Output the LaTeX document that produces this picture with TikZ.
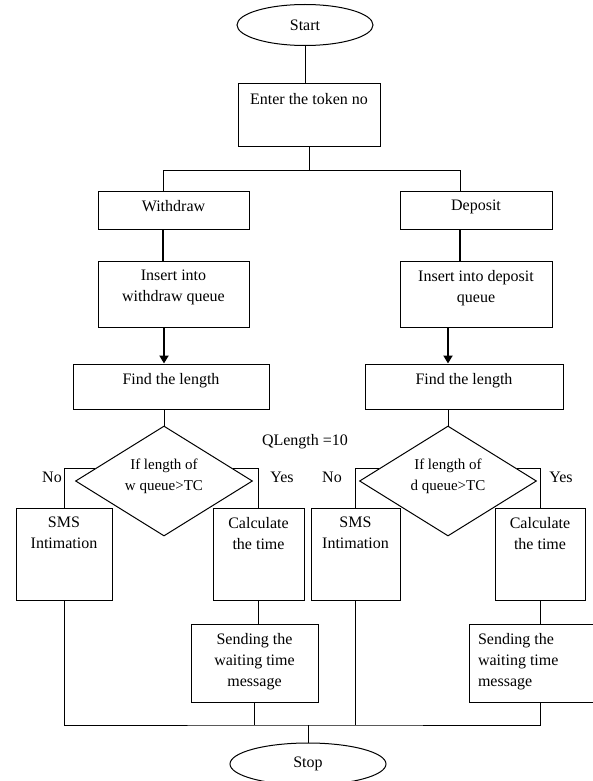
\documentclass[tikz,border=0pt]{standalone}
\usepackage{fontspec}
\setmainfont{Liberation Serif}
\usepackage{tikz}
\usetikzlibrary{shapes.geometric, arrows.meta}
\tikzset{
  box/.style 2 args={draw, rectangle, minimum width=#1, minimum height=#2, inner sep=0pt},
  boxtext/.style={label={[anchor=north, yshift=-9pt, align=center, inner sep=0pt]north:{#1}}},
  boxtextleft/.style={label={[anchor=north west, xshift=9pt, yshift=-9pt, align=left, inner sep=0pt]north west:{#1}}},
  terminal/.style 2 args={draw, ellipse, minimum width=#1, minimum height=#2, inner sep=0pt},
  decision/.style={draw, diamond, aspect=1.6, minimum width=177pt, minimum height=110pt, inner sep=0pt},
  dtext/.style={label={[align=center, yshift=5pt, inner sep=0pt, font=\fontsize{15}{21}\selectfont]center:{#1}}},
  note/.style={inner sep=0pt},
  heavy/.style={line width=2.5pt},
  heavyarrow/.style={line width=2.5pt, -{Triangle[length=8pt,width=9pt]}}
}
\begin{document}
\begin{tikzpicture}[x=1pt, y=-1pt, line width=1pt, font=\fontsize{16}{21}\selectfont]
  \useasboundingbox (0,0) rectangle (592,781);
  % top
  \node[terminal={136pt}{41pt}] (start) at (305,25) {Start};
  \node[box={142pt}{62pt}, boxtext={Enter the token no}] (enter) at (309,115) {};
  \node[box={151pt}{38pt}, boxtext={Withdraw}] (withdraw) at (173.5,210) {};
  \node[box={152pt}{38pt}, boxtext={Deposit}] (deposit) at (476,210) {};
  \node[box={151pt}{66pt}, boxtext={Insert into\\withdraw queue}] (insw) at (173.5,294) {};
  \node[box={152pt}{66pt}, boxtext={Insert into deposit\\queue}] (insd) at (476,294) {};
  \node[box={196pt}{45pt}, boxtext={Find the length}] (findw) at (171,386.5) {};
  \node[box={198pt}{45pt}, boxtext={Find the length}] (findd) at (464,386.5) {};
  % decisions
  \node[decision, dtext={If length of\\w queue>TC}] (diaw) at (164,481) {};
  \node[decision, dtext={If length of\\d queue>TC}] (diad) at (448,481) {};
  \node[note] (qlen) at (305,442) {QLength =10};
  \node[note] (nowl) at (52,477) {No};
  \node[note] (yesw) at (282,477) {Yes};
  \node[note] (nodl) at (332,477) {No};
  \node[note] (yesd) at (561,477) {Yes};
  % lower boxes
  \node[box={96pt}{92pt}, boxtext={SMS\\Intimation}] (smsw) at (64,554) {};
  \node[box={91pt}{92pt}, boxtext={Calculate\\the time}] (calw) at (258.5,554) {};
  \node[box={89pt}{92pt}, boxtext={SMS\\Intimation}] (smsd) at (355.5,554) {};
  \node[box={90pt}{92pt}, boxtext={Calculate\\the time}] (cald) at (540,554) {};
  \node[box={127pt}{78pt}, boxtext={Sending the\\waiting time\\message}] (sendw) at (254.5,663) {};
  \node[box={142pt}{78pt}, boxtextleft={Sending the\\waiting time\\message}] (sendd) at (540,663) {};
  \node[terminal={156pt}{42pt}] (stop) at (308,764) {Stop};
  % connectors
  \coordinate (wfork) at (163,170);
  \coordinate (dfork) at (460,170);
  \coordinate (merge) at (308,725);
  \draw (start.south) -- (start.south |- enter.north);
  \draw (enter.south) -- (enter.south |- wfork);
  \draw (wfork) -- (dfork);
  \draw (wfork) -- (wfork |- withdraw.north);
  \draw (dfork) -- (dfork |- deposit.north);
  \draw[heavy] (wfork |- withdraw.south) -- (wfork |- insw.north);
  \draw[heavy] (dfork |- deposit.south) -- (dfork |- insd.north);
  \draw[heavyarrow] (diaw.north |- insw.south) -- (diaw.north |- findw.north);
  \draw[heavyarrow] (diad.north |- insd.south) -- (diad.north |- findd.north);
  \draw (diaw.north |- findw.south) -- (diaw.north);
  \draw (diad.north |- findd.south) -- (diad.north);
  \draw (diaw.170) -| (smsw.north);
  \draw (diaw.10) -| (calw.north);
  \draw (diad.170) -| (smsd.north);
  \draw (diad.10) -| (cald.north);
  \draw (calw.south) -- (calw.south |- sendw.north);
  \draw (cald.south) -- (cald.south |- sendd.north);
  \draw (smsw.south) |- (merge) -| (sendd.south);
  \draw (sendw.south) -- (sendw.south |- merge);
  \draw (smsd.south) -- (smsd.south |- merge);
  \draw (merge) -- (stop.north);
\end{tikzpicture}
\end{document}
